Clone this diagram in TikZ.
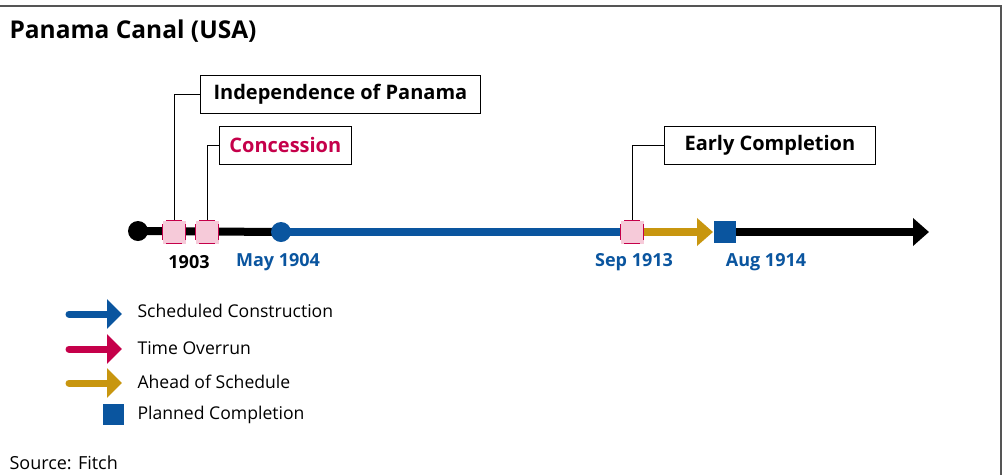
\documentclass[tikz,border=0pt]{standalone}
\usepackage{fontspec}
\setmainfont{Open Sans}
\usetikzlibrary{arrows.meta}
\definecolor{canalblue}{HTML}{0A559F}
\definecolor{overrun}{HTML}{C5004A}
\definecolor{ahead}{HTML}{C8960F}
\definecolor{markpink}{HTML}{F6CAD9}
\definecolor{framegray}{HTML}{555555}
\tikzset{
  x=1pt, y=-1pt,
  milestone/.style={draw=overrun, line width=1.6pt, dash pattern=on 16pt off 7pt, dash phase=19.5pt,
    fill=markpink, minimum size=23pt, inner sep=0pt},
  plannedbox/.style={fill=canalblue, minimum size=22pt, inner sep=0pt},
  callout/.style={draw=black, line width=0.8pt, fill=white, font=\bfseries\fontsize{20}{22}\selectfont,
    minimum height=38pt, inner xsep=10pt, anchor=west},
  leader/.style={draw=black, line width=0.8pt},
  datelabel/.style={font=\bfseries\fontsize{18}{20}\selectfont, text=canalblue},
  legendtext/.style={font=\fontsize{17.6}{20}\selectfont, anchor=west},
  legendarrow/.style={line width=7pt, line cap=round, -{Triangle[length=15pt,width=29pt]}},
  track/.style={line width=8pt},
}
\begin{document}
\begin{tikzpicture}
\useasboundingbox (0,0) rectangle (1006,475);
% frame
\draw[framegray, line width=2pt] (0,6) -- (1001,6) -- (1001,475);
% title
\node[anchor=west, font=\bfseries\fontsize{24.5}{28}\selectfont] (title) at (6,31) {Panama Canal (USA)};

% timeline points
\coordinate (start) at (138,231);
\coordinate (may04) at (281,232);
\coordinate (sep13) at (632,232);
\coordinate (aug14) at (725,232);
\coordinate (tend) at (929,232);

% timeline segments
\draw[track] (start) -- (may04);
\draw[track, canalblue, line cap=round] (may04) -- (sep13);
\draw[track, ahead, -{Triangle[length=16pt,width=27pt]}] (sep13) -- (713,232);
\draw[track, -{Triangle[length=16pt,width=27pt]}] (aug14) -- (tend);
\fill (start) circle (10pt);
\fill[canalblue] (may04) circle (10pt);

% milestones
\node[milestone] (ind) at (174,232) {};
\node[milestone] (con) at (207,232) {};
\node[milestone] (early) at (632,232) {};
\node[plannedbox] (planned) at (725,232) {};

% date labels
\node[font=\bfseries\fontsize{18}{20}\selectfont] (y1903) at (189,262) {1903};
\node[datelabel] (lmay) at (278,262) {May 1904};
\node[datelabel] (lsep) at (634,262) {Sep 1913};
\node[datelabel] (laug) at (766,262) {Aug 1914};

% callouts
\node[callout, minimum width=280pt] (cind) at (200,94) {Independence of Panama};
\node[callout, minimum width=131pt, text=overrun] (ccon) at (219,145) {Concession};
\node[callout, minimum width=211pt] (cearly) at (664,145) {Early Completion};
\draw[leader] (ind.north) |- (cind.west);
\draw[leader] (con.north) |- (ccon.west);
\draw[leader] (early.north) |- (cearly.west);

% legend
\coordinate (la1) at (69,314);
\coordinate (la2) at (69,349);
\coordinate (la3) at (69,383);
\draw[legendarrow, canalblue] (la1) -- (122,314);
\draw[legendarrow, overrun] (la2) -- (122,349);
\draw[legendarrow, ahead] (la3) -- (122,383);
\node[plannedbox, minimum size=21pt] (lsq) at (113,414) {};
\node[legendtext] (t1) at (134,311) {Scheduled Construction};
\node[legendtext] (t2) at (134,348) {Time Overrun};
\node[legendtext] (t3) at (134,382) {Ahead of Schedule};
\node[legendtext] (t4) at (134,415) {Planned Completion};

% source
\node[anchor=west, font=\fontsize{18}{20}\selectfont] (src) at (6,463) {Source: Fitch};
\end{tikzpicture}
\end{document}
